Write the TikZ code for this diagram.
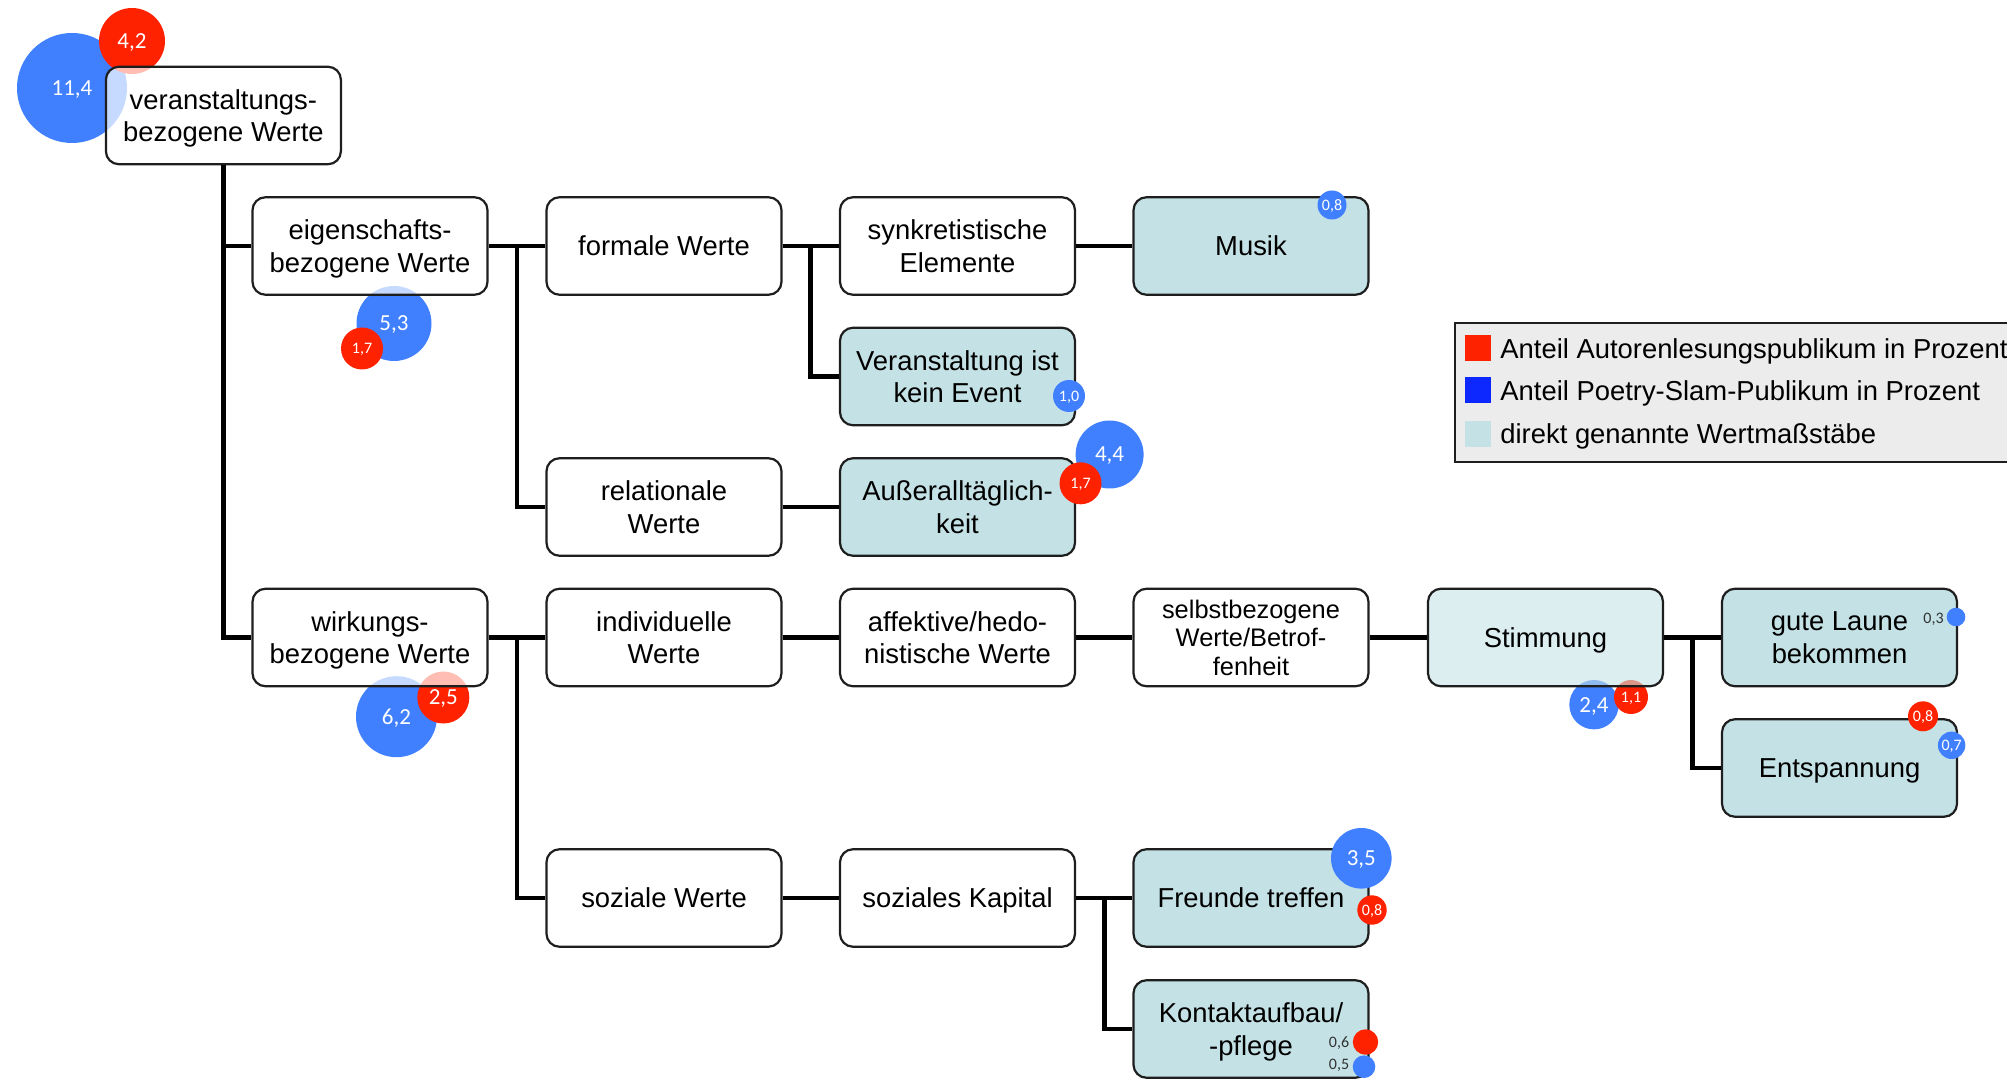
\documentclass[tikz,border=0pt]{standalone}
\usepackage{fontspec}
\setmainfont{Liberation Sans}
\newfontfamily\numfont{Carlito}
\usetikzlibrary{calc}
\definecolor{bubblue}{RGB}{64,128,255}
\definecolor{bubred}{RGB}{255,34,0}
\definecolor{tealfill}{RGB}{196,226,229}
\definecolor{legendgray}{RGB}{236,236,236}
\definecolor{legendblue}{RGB}{12,40,255}
\definecolor{legendred}{RGB}{255,34,0}
\definecolor{boxline}{RGB}{30,30,30}
\definecolor{labelgray}{RGB}{50,50,50}

\begin{document}
\begin{tikzpicture}[x=0.5pt, y=-0.5pt,
  valbox/.style={draw=boxline, line width=1.1pt, rounded corners=6.5pt,
    minimum width=117.5pt, minimum height=48.75pt, inner sep=0pt, align=center,
    text depth=-0.8pt,
    font=\fontsize{13.7}{16.3}\selectfont, fill=white, fill opacity=0.7, text opacity=1},
  direct/.style={valbox, fill=tealfill, fill opacity=1},
  oneline/.style={text depth=-3pt},
  conn/.style={line width=2.3pt, black},
  numbub/.style={circle, inner sep=0pt, text=white, text depth=0pt,
    font=\numfont\fontsize{11.5}{12}\selectfont},
  smallnum/.style={font=\numfont\fontsize{8}{9}\selectfont},
  slambub/.style={numbub, fill=bubblue, minimum size=#1pt},
  lesebub/.style={numbub, fill=bubred, minimum size=#1pt},
  sidenum/.style={anchor=east, inner sep=0pt, text=labelgray, font=\numfont\fontsize{8}{9}\selectfont},
  legtext/.style={anchor=base west, inner sep=0pt, font=\fontsize{13.7}{15}\selectfont},
  legkey/.style={minimum size=13pt, inner sep=0pt},
]
\useasboundingbox (0,0) rectangle (2007,1079);
\clip (0,0) rectangle (2007,1079);

% shares lying underneath the (translucent) boxes
\node[slambub=55] (p-root) at (72,88) {11,4};
\node[lesebub=33] (a-root) at (132,41) {4,2};
\node[slambub=37.5] (p-eig) at (394,323.5) {5,3};
\node[lesebub=21, smallnum] (a-eig) at (362,348.5) {1,7};
\node[slambub=40.5] (p-wirk) at (396.5,716.7) {6,2};
\node[lesebub=26] (a-wirk) at (443.3,697.5) {2,5};
\node[slambub=24.7] (p-stimm) at (1594,704.7) {2,4};
\node[lesebub=17, smallnum] (a-stimm) at (1631,697) {1,1};

% value tree
\node[valbox] (root) at (223.4,115.5) {veranstaltungs-\\bezogene Werte};
\node[valbox] (eig) at (370,246) {eigenschafts-\\bezogene Werte};
\node[valbox, oneline] (form) at (664,246) {formale Werte};
\node[valbox] (synk) at (957.5,246) {synkretistische\\Elemente};
\node[direct, oneline] (musik) at (1251,246) {Musik};
\node[direct] (event) at (957.5,376.5) {Veranstaltung ist\\kein Event};
\node[valbox] (rel) at (664,507) {relationale\\Werte};
\node[direct] (auss) at (957.5,507) {Außeralltäglich-\\keit};
\node[valbox] (wirk) at (370,637.5) {wirkungs-\\bezogene Werte};
\node[valbox] (indiv) at (664,637.5) {individuelle\\Werte};
\node[valbox] (affekt) at (957.5,637.5) {affektive/hedo-\\nistische Werte};
\node[valbox, font=\fontsize{12.7}{14.3}\selectfont] (selbst) at (1251,637.5) {selbstbezogene\\Werte/Betrof-\\fenheit};
\node[direct, oneline, fill opacity=0.6] (stimm) at (1545.5,637.5) {Stimmung};
\node[direct] (laune) at (1839.5,637.5) {gute Laune\\bekommen};
\node[direct, oneline] (entsp) at (1839.5,768) {Entspannung};
\node[valbox, oneline] (soz) at (664,898) {soziale Werte};
\node[valbox, oneline] (kapital) at (957.5,898) {soziales Kapital};
\node[direct, oneline] (freunde) at (1251,898) {Freunde treffen};
\node[direct] (kontakt) at (1251,1029) {Kontaktaufbau/\\-pflege};

% connectors
\draw[conn] (root.south) |- (wirk.west);
\draw[conn] (root.south |- eig.west) -- (eig.west);
\draw[conn] (eig.east) -- (form.west);
\draw[conn] ($(eig.east)!0.5!(form.west)$) |- (rel.west);
\draw[conn] (form.east) -- (synk.west);
\draw[conn] ($(form.east)!0.5!(synk.west)$) |- (event.west);
\draw[conn] (synk.east) -- (musik.west);
\draw[conn] (rel.east) -- (auss.west);
\draw[conn] (wirk.east) -- (indiv.west);
\draw[conn] ($(wirk.east)!0.5!(indiv.west)$) |- (soz.west);
\draw[conn] (indiv.east) -- (affekt.west);
\draw[conn] (affekt.east) -- (selbst.west);
\draw[conn] (selbst.east) -- (stimm.west);
\draw[conn] (stimm.east) -- (laune.west);
\draw[conn] ($(stimm.east)!0.5!(laune.west)$) |- (entsp.west);
\draw[conn] (soz.east) -- (kapital.west);
\draw[conn] (kapital.east) -- (freunde.west);
\draw[conn] ($(kapital.east)!0.5!(freunde.west)$) |- (kontakt.west);

% shares on top of the boxes
\node[slambub=14.5, smallnum] (p-musik) at (1332,205) {0,8};
\node[slambub=16, smallnum] (p-event) at (1069,396) {1,0};
\node[slambub=34] (p-auss) at (1109.6,454.5) {4,4};
\node[lesebub=21, smallnum] (a-auss) at (1080.5,483.3) {1,7};
\node[slambub=9.3] (p-laune) at (1956,617) {};
\node[sidenum] (n-laune) at (1944,619) {0,3};
\node[lesebub=15, smallnum] (a-entsp) at (1923,716.3) {0,8};
\node[slambub=13.7, smallnum] (p-entsp) at (1951.6,745.3) {0,7};
\node[slambub=30.3] (p-freunde) at (1361.3,858.3) {3,5};
\node[lesebub=14.7, smallnum] (a-freunde) at (1372,910) {0,8};
\node[lesebub=12.7] (a-kontakt) at (1365.5,1042) {};
\node[sidenum] (n-akontakt) at (1349.5,1042.7) {0,6};
\node[slambub=11.3] (p-kontakt) at (1364,1066.7) {};
\node[sidenum] (n-pkontakt) at (1349.5,1065.7) {0,5};

% legend
\node[draw=boxline, line width=1pt, fill=legendgray, anchor=north west,
  minimum width=300pt, minimum height=69.25pt, inner sep=0pt] (legend) at (1453.5,322.5) {};
\node[legkey, fill=legendred] (key-lese) at (1478,348) {};
\node[legkey, fill=legendblue] (key-slam) at (1478,390.3) {};
\node[legkey, fill=tealfill] (key-direct) at (1478,434.2) {};
\node[legtext] (txt-lese) at (1500,358.5) {Anteil Autorenlesungspublikum in Prozent};
\node[legtext] (txt-slam) at (1500,401) {Anteil Poetry-Slam-Publikum in Prozent};
\node[legtext] (txt-direct) at (1500,443.5) {direkt genannte Wertmaßstäbe};
\end{tikzpicture}
\end{document}
